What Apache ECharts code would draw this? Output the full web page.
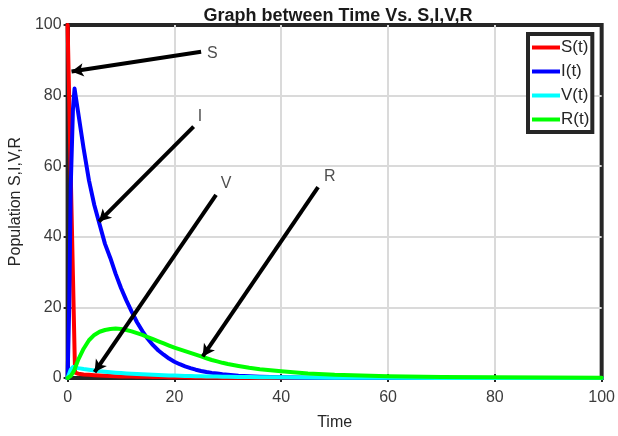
<!DOCTYPE html>
<html>
<head>
<meta charset="utf-8">
<script src="https://cdn.jsdelivr.net/npm/echarts@6/dist/echarts.min.js"></script>
<style>html,body{margin:0;padding:0;background:#fff}#c{width:618px;height:436px}</style>
</head>
<body>
<div id="c"></div>
<script>
// ---- data ----
var time = [0, 0.3, 0.6, 1, 1.3, 1.4, 2, 3, 4, 5, 6, 7, 8, 9, 10, 11, 12, 13, 14, 15, 16, 17, 18, 19, 20, 21, 22, 23, 24, 25, 26, 27, 28, 29, 30, 32, 34, 36, 38, 40, 45, 50, 55, 60, 70, 80, 90, 100];
var S = [100, 79, 57, 29, 8, 1.5, 1.2, 1.0, 0.9, 0.8, 0.7, 0.62, 0.55, 0.5, 0.45, 0.42, 0.4, 0.37, 0.35, 0.32, 0.3, 0.28, 0.25, 0.22, 0.2, 0.2, 0.18, 0.17, 0.16, 0.15, 0.14, 0.12, 0.11, 0.1, 0.1, 0.08, 0.07, 0.06, 0.05, 0.05, 0.03, 0.02, 0.01, 0, 0, 0, 0, 0];
var I = [0, 20, 55, 76, 82, 81.5, 75, 65, 56, 49, 43.5, 38, 34, 29.5, 25.5, 22, 18.8, 15.8, 13.3, 11.1, 9.3, 7.8, 6.6, 5.5, 4.6, 3.9, 3.3, 2.8, 2.35, 2.0, 1.7, 1.45, 1.25, 1.05, 0.9, 0.65, 0.47, 0.34, 0.25, 0.18, 0.08, 0.04, 0.02, 0.01, 0, 0, 0, 0];
var V = [0, 1.2, 2.4, 3.1, 3.0, 3.0, 2.8, 2.55, 2.35, 2.15, 1.95, 1.8, 1.65, 1.52, 1.4, 1.3, 1.2, 1.12, 1.05, 0.97, 0.9, 0.84, 0.78, 0.73, 0.68, 0.63, 0.59, 0.55, 0.51, 0.48, 0.45, 0.42, 0.39, 0.36, 0.34, 0.3, 0.26, 0.23, 0.2, 0.18, 0.13, 0.1, 0.07, 0.05, 0.03, 0.02, 0.01, 0.01];
var R = [0, 0.2, 0.6, 1.5, 2.4, 2.8, 5.2, 8.3, 10.7, 12.2, 13.1, 13.6, 13.9, 14, 13.9, 13.6, 13.2, 12.7, 12.2, 11.6, 11, 10.4, 9.8, 9.2, 8.6, 8.1, 7.6, 7.1, 6.6, 6.1, 5.6, 5.1, 4.7, 4.3, 3.95, 3.4, 2.9, 2.5, 2.2, 1.9, 1.3, 0.9, 0.7, 0.5, 0.3, 0.2, 0.15, 0.1];
var seriesNames = ['S(t)', 'I(t)', 'V(t)', 'R(t)'];
var seriesColors = ['#ff0000', '#0000ff', '#00ffff', '#00ff00'];
var xTicks = [0, 20, 40, 60, 80, 100];
var yTicks = [0, 20, 40, 60, 80, 100];
// annotation arrows: label, label position, tail [t, value], head [t, value]
var arrowLabels = ['S', 'I', 'V', 'R'];
var arrowLabelPos = [[27.1, 91.9], [24.8, 74.1], [29.7, 55.0], [49.1, 57.0]];
var arrowTails = [[25.0, 92.4], [23.6, 71.2], [27.8, 51.9], [46.9, 54.1]];
var arrowHeads = [[0.74, 86.8], [5.87, 44.3], [5.06, 1.67], [25.3, 6.1]];

function pairs(ys) { return time.map(function (t, i) { return [t, ys[i]]; }); }
var values = [S, I, V, R];

var FONT = '"Liberation Sans", Arial, Helvetica, sans-serif';
var chart = echarts.init(document.getElementById('c'), null, { renderer: 'canvas' });

var series = values.map(function (ys, k) {
  return {
    name: seriesNames[k], type: 'line', data: pairs(ys),
    xAxisIndex: 0, yAxisIndex: 0,
    showSymbol: false, symbol: 'none',
    lineStyle: { color: seriesColors[k], width: 4, join: 'round', cap: 'round' },
    itemStyle: { color: seriesColors[k] },
    animation: false
  };
});
series[3].markLine = {
  silent: true, animation: false,
  symbol: ['none', 'arrow'], symbolSize: [10, 12],
  lineStyle: { color: '#000', width: 4, type: 'solid' },
  label: { show: false },
  data: arrowLabels.map(function (lab, i) {
    return [{ name: lab, coord: arrowTails[i] }, { coord: arrowHeads[i] }];
  })
};
series.push({
  name: 'labels', type: 'scatter', silent: true, animation: false,
  symbolSize: 0,
  data: arrowLabels.map(function (lab, i) { return { name: lab, value: arrowLabelPos[i] }; }),
  label: { show: true, position: 'inside', formatter: '{b}', color: '#222', fontSize: 16, fontFamily: FONT }
});

var axisLabelStyle = { color: '#3c3c3c', fontSize: 16, fontFamily: FONT };
var tickStyle = { show: true, inside: true, length: 4, lineStyle: { color: '#262626', width: 2 } };
chart.setOption({
  backgroundColor: '#fff',
  animation: false,
  title: {
    text: 'Graph between Time Vs. S,I,V,R',
    left: 333, top: 2, textAlign: 'center',
    textStyle: { fontSize: 18, fontWeight: 'bold', color: '#1a1a1a', fontFamily: FONT }
  },
  legend: {
    data: seriesNames, orient: 'vertical', left: 528, top: 34,
    icon: 'rect', itemWidth: 28, itemHeight: 4, itemGap: 7,
    padding: [5, 3, 4, 4],
    borderColor: '#262626', borderWidth: 4, backgroundColor: '#fff',
    textStyle: { fontSize: 17, color: '#262626', fontFamily: FONT, padding: [0, 0, 0, -4] }
  },
  grid: { left: 65, right: 15, top: 25, bottom: 54, show: true, borderColor: '#262626', borderWidth: 4, backgroundColor: 'transparent' },
  xAxis: [{
    type: 'value', min: 0, max: 100, interval: 20,
    name: 'Time', nameLocation: 'middle', nameGap: 37,
    nameTextStyle: { fontSize: 16, color: '#262626', fontFamily: FONT },
    axisLine: { show: false },
    axisTick: tickStyle,
    axisLabel: Object.assign({ margin: 12, formatter: function (v) { return xTicks.indexOf(v) >= 0 ? String(v) : ''; } }, axisLabelStyle),
    splitLine: { show: true, showMinLine: false, showMaxLine: false, lineStyle: { color: '#dadada', width: 2 } }
  }, {
    type: 'value', min: 0, max: 100, interval: 20, position: 'top',
    axisLine: { show: true, lineStyle: { color: '#262626', width: 4 } }, axisLabel: { show: false }, splitLine: { show: false },
    axisTick: tickStyle
  }],
  yAxis: [{
    type: 'value', min: 0, max: 100, interval: 20,
    name: 'Population S,I,V,R', nameLocation: 'middle', nameGap: 36,
    nameTextStyle: { fontSize: 16, color: '#262626', fontFamily: FONT },
    axisLine: { show: false },
    axisTick: tickStyle,
    axisLabel: Object.assign({ margin: 6, padding: [3, 0, 0, 0], formatter: function (v) { return yTicks.indexOf(v) >= 0 ? String(v) : ''; } }, axisLabelStyle),
    splitLine: { show: true, showMinLine: false, showMaxLine: false, lineStyle: { color: '#dadada', width: 2 } }
  }, {
    type: 'value', min: 0, max: 100, interval: 20, position: 'right',
    axisLine: { show: true, lineStyle: { color: '#262626', width: 4 } }, axisLabel: { show: false }, splitLine: { show: false },
    axisTick: tickStyle
  }],
  series: series
});
</script>
</body>
</html>
